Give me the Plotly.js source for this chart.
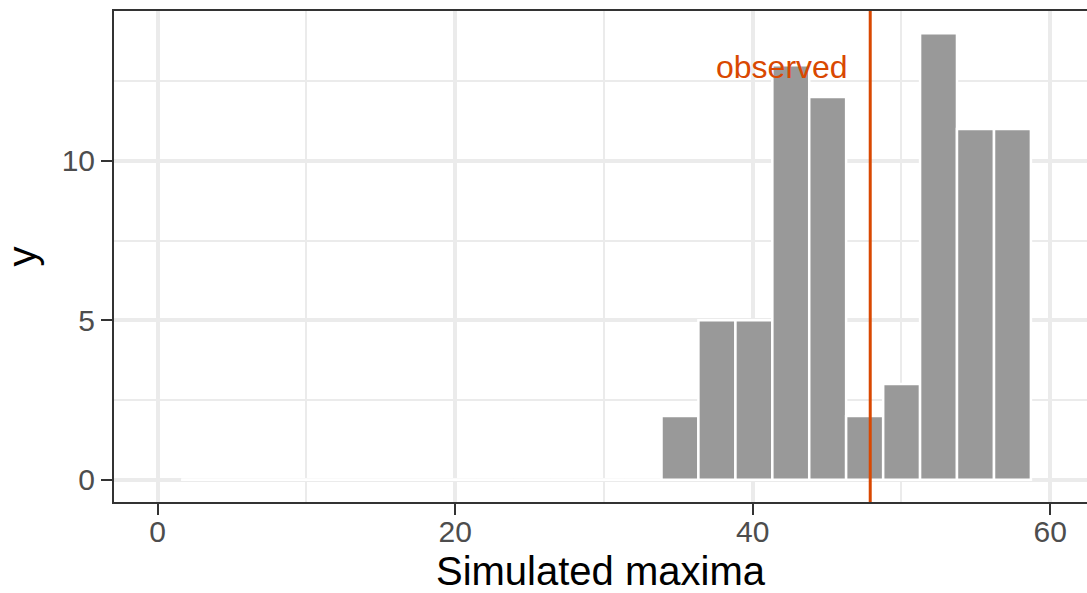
<!DOCTYPE html>
<html>
<head>
<meta charset="utf-8">
<script src="https://cdn.plot.ly/plotly-3.0.1.min.js"></script>
<style>
  html, body { margin: 0; padding: 0; background: #ffffff; }
  #chart { width: 1087px; height: 593px; }
</style>
</head>
<body>
<div id="chart"></div>
<script>
// Histogram of simulated maxima: bin breaks and counts per bin
const breaks = [1.59, 4.07, 6.56, 9.04, 11.52, 14.01, 16.49, 18.97, 21.45, 23.94,
                26.42, 28.90, 31.39, 33.87, 36.35, 38.84, 41.32, 43.80, 46.28, 48.77,
                51.25, 53.73, 56.22, 58.70];
const counts = [0, 0, 0, 0, 0, 0, 0, 0, 0, 0, 0, 0, 0,
                2, 5, 5, 13, 12, 2, 3, 14, 11, 11];

// Observed maximum and its label
const observed = 47.9;
const observedLabel = "observed";
const labelX = 42;
const labelY = 12.95;

const xTicks = [0, 20, 40, 60];
const xMinorTicks = [10, 30, 50];
const yTicks = [0, 5, 10];
const yMinorTicks = [2.5, 7.5, 12.5];

const accent = "#D94801";
const font = "Liberation Sans, Arial, Helvetica, sans-serif";

// Bin centres and widths from the breaks
const mids = counts.map((_, i) => (breaks[i] + breaks[i + 1]) / 2);
const widths = counts.map((_, i) => breaks[i + 1] - breaks[i]);

// Empty bins still get their white outline along the baseline
const emptyX = [];
counts.forEach((c, i) => {
  if (c === 0) { emptyX.push(breaks[i], breaks[i + 1]); }
});

const emptyOutline = {
  type: "scatter",
  mode: "lines",
  x: emptyX,
  y: emptyX.map(() => 0),
  line: { color: "#ffffff", width: 2.5 },
  hoverinfo: "skip",
  showlegend: false
};

const bars = {
  type: "bar",
  x: mids,
  y: counts,
  width: widths,
  marker: { color: "#999999", line: { color: "#ffffff", width: 2.5 } },
  hovertemplate: "%{y}<extra></extra>",
  showlegend: false
};

const layout = {
  width: 1087,
  height: 593,
  margin: { l: 114, r: 0, t: 11, b: 91, pad: 0 },
  paper_bgcolor: "#ffffff",
  plot_bgcolor: "#ffffff",
  font: { family: font, color: "#000000" },
  bargap: 0,
  showlegend: false,
  xaxis: {
    range: [-2.93, 62.47],
    tickmode: "array",
    tickvals: xTicks,
    ticktext: xTicks.map(String),
    showgrid: true,
    gridcolor: "#EBEBEB",
    gridwidth: 4,
    minor: { tickmode: "array", tickvals: xMinorTicks, showgrid: true,
             gridcolor: "#EBEBEB", gridwidth: 2, ticks: "" },
    zeroline: false,
    showline: true,
    mirror: true,
    linecolor: "#333333",
    linewidth: 2,
    ticks: "outside",
    ticklen: 11,
    tickwidth: 2,
    tickcolor: "#333333",
    ticklabelstandoff: -9,
    tickfont: { family: font, size: 30, color: "#4D4D4D" },
    title: { text: "Simulated maxima", font: { family: font, size: 40, color: "#000000" } }
  },
  yaxis: {
    range: [-0.7, 14.7],
    tickmode: "array",
    tickvals: yTicks,
    ticktext: yTicks.map(String),
    showgrid: true,
    gridcolor: "#EBEBEB",
    gridwidth: 4,
    minor: { tickmode: "array", tickvals: yMinorTicks, showgrid: true,
             gridcolor: "#EBEBEB", gridwidth: 2, ticks: "" },
    zeroline: false,
    showline: true,
    mirror: false,
    linecolor: "#333333",
    linewidth: 2,
    ticks: "outside",
    ticklen: 11,
    tickwidth: 2,
    tickcolor: "#333333",
    tickfont: { family: font, size: 30, color: "#4D4D4D" },
    automargin: true,
    title: { text: "y", font: { family: font, size: 40, color: "#000000" }, standoff: 13 }
  },
  shapes: [{
    type: "line",
    xref: "x", yref: "paper",
    x0: observed, x1: observed, y0: 0, y1: 1,
    line: { color: accent, width: 3 }
  }],
  annotations: [{
    xref: "x", yref: "y",
    x: labelX, y: labelY,
    text: observedLabel,
    showarrow: false,
    font: { family: font, size: 32, color: accent },
    xanchor: "center", yanchor: "middle"
  }]
};

Plotly.newPlot("chart", [emptyOutline, bars], layout, { displayModeBar: false, staticPlot: true });
</script>
</body>
</html>
